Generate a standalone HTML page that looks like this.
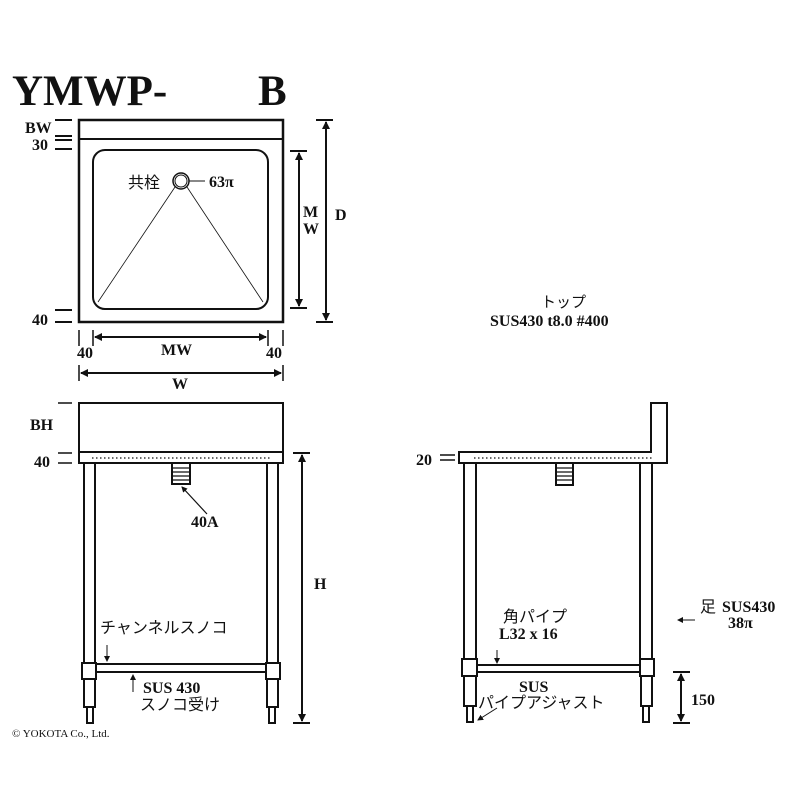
<!DOCTYPE html>
<html><head><meta charset="utf-8"><style>
html,body{margin:0;padding:0;background:#fff}
svg text{font-family:"Liberation Serif","Noto Serif CJK SC",serif;font-weight:bold;fill:#111}
.j{font-family:"Liberation Sans","Noto Sans CJK JP",sans-serif;font-weight:normal}
</style></head><body>
<svg width="800" height="800" viewBox="0 0 800 800" xmlns="http://www.w3.org/2000/svg">
<defs>
<marker id="a" markerWidth="8" markerHeight="8" refX="7" refY="4" orient="auto-start-reverse" markerUnits="userSpaceOnUse"><path d="M0,0 L8,4 L0,8 Z" fill="#111"/></marker>
<marker id="s" markerWidth="6" markerHeight="6" refX="5" refY="3" orient="auto" markerUnits="userSpaceOnUse"><path d="M0,0 L6,3 L0,6 Z" fill="#111"/></marker>
</defs>
<g stroke="#111" fill="none">
<text x="12" y="105" font-size="43" stroke="none">YMWP-</text>
<text x="258" y="105" font-size="43" stroke="none">B</text>
<!-- top view -->
<rect x="79" y="120" width="204" height="202" stroke-width="2.5"/>
<line x1="79" y1="139" x2="283" y2="139" stroke-width="2"/>
<rect x="93" y="150" width="175" height="159" rx="12" stroke-width="2"/>
<circle cx="181" cy="181" r="8" stroke-width="1.5"/><circle cx="181" cy="181" r="6" stroke-width="1"/>
<line x1="175" y1="187" x2="98" y2="302" stroke-width="0.8"/>
<line x1="187" y1="187" x2="263" y2="302" stroke-width="0.8"/>
<line x1="189" y1="181" x2="205" y2="181" stroke-width="1"/>
<g stroke-width="2">
<line x1="55" y1="120" x2="72" y2="120"/><line x1="55" y1="136" x2="72" y2="136"/>
<line x1="55" y1="140" x2="72" y2="140"/><line x1="55" y1="149" x2="72" y2="149"/>
<line x1="55" y1="310" x2="72" y2="310"/><line x1="55" y1="322" x2="72" y2="322"/>
<line x1="290" y1="151" x2="307" y2="151"/><line x1="290" y1="308" x2="307" y2="308"/>
<line x1="316" y1="120" x2="333" y2="120"/><line x1="316" y1="322" x2="333" y2="322"/>
</g>
<line x1="299" y1="153" x2="299" y2="306" stroke-width="2" marker-start="url(#a)" marker-end="url(#a)"/>
<line x1="326" y1="122" x2="326" y2="320" stroke-width="2" marker-start="url(#a)" marker-end="url(#a)"/>
<g stroke-width="1.5"><line x1="79" y1="330" x2="79" y2="346"/><line x1="93" y1="330" x2="93" y2="346"/><line x1="268" y1="330" x2="268" y2="346"/><line x1="283" y1="330" x2="283" y2="346"/>
<line x1="79" y1="365" x2="79" y2="381"/><line x1="283" y1="365" x2="283" y2="381"/></g>
<line x1="95" y1="337" x2="266" y2="337" stroke-width="2" marker-start="url(#a)" marker-end="url(#a)"/>
<line x1="81" y1="373" x2="281" y2="373" stroke-width="2" marker-start="url(#a)" marker-end="url(#a)"/>
<g stroke="none" font-size="16">
<text x="25" y="133">BW</text><text x="32" y="150">30</text><text x="32" y="325">40</text>
<text x="303" y="217">M</text><text x="303" y="234">W</text><text x="335" y="220">D</text>
<text x="77" y="358">40</text><text x="266" y="358">40</text>
<text x="161" y="355">MW</text><text x="172" y="389">W</text>
<text x="209" y="187">63π</text>
<text x="128" y="188" class="j" font-size="16">共栓</text>
</g>
<!-- front view -->
<rect x="79" y="403" width="204" height="49" stroke-width="2"/>
<rect x="79" y="452" width="204" height="11" stroke-width="2"/>
<line x1="92" y1="458" x2="272" y2="458" stroke-width="1.2" stroke-dasharray="1.5,2.5"/>
<line x1="58" y1="403" x2="72" y2="403" stroke-width="1.5"/>
<line x1="58" y1="453" x2="72" y2="453" stroke-width="1.5"/><line x1="58" y1="463" x2="72" y2="463" stroke-width="1.5"/>
<rect x="84" y="463" width="11" height="200" stroke-width="2"/>
<rect x="267" y="463" width="11" height="200" stroke-width="2"/>
<rect x="82" y="663" width="14" height="16" stroke-width="2"/>
<rect x="266" y="663" width="14" height="16" stroke-width="2"/>
<rect x="96" y="664" width="170" height="8" stroke-width="2"/>
<rect x="84" y="679" width="11" height="28" stroke-width="2"/>
<rect x="267" y="679" width="11" height="28" stroke-width="2"/>
<rect x="87" y="707" width="6" height="16" stroke-width="2"/>
<rect x="269" y="707" width="6" height="16" stroke-width="2"/>
<rect x="172" y="463" width="18" height="21" stroke-width="2"/>
<g stroke-width="1.2"><line x1="172" y1="468" x2="190" y2="468"/><line x1="172" y1="472" x2="190" y2="472"/><line x1="172" y1="476" x2="190" y2="476"/><line x1="172" y1="480" x2="190" y2="480"/></g>
<line x1="207" y1="514" x2="182" y2="487" stroke-width="1.2" marker-end="url(#s)"/>
<line x1="293" y1="453" x2="310" y2="453" stroke-width="2"/><line x1="293" y1="723" x2="310" y2="723" stroke-width="2"/>
<line x1="302" y1="455" x2="302" y2="721" stroke-width="2" marker-start="url(#a)" marker-end="url(#a)"/>
<line x1="107" y1="645" x2="107" y2="661" stroke-width="1" marker-end="url(#s)"/>
<line x1="133" y1="692" x2="133" y2="675" stroke-width="1" marker-end="url(#s)"/>
<g stroke="none" font-size="16">
<text x="30" y="430">BH</text><text x="34" y="467">40</text>
<text x="191" y="527">40A</text><text x="314" y="589">H</text>
<text x="143" y="693">SUS 430</text>
<text x="100" y="633" class="j" font-size="16">チャンネルスノコ</text>
<text x="140" y="710" class="j" font-size="16">スノコ受け</text>
<text x="12" y="737" font-size="11" style="font-weight:normal">© YOKOTA Co., Ltd.</text>
</g>
<!-- side view -->
<path d="M651,452 L651,403 L667,403 L667,463 L459,463 L459,452 Z" stroke-width="2"/>
<line x1="474" y1="458" x2="654" y2="458" stroke-width="1.2" stroke-dasharray="1.5,2.5"/>
<line x1="440" y1="455" x2="455" y2="455" stroke-width="1.5"/><line x1="440" y1="460" x2="455" y2="460" stroke-width="1.5"/>
<rect x="464" y="463" width="12" height="196" stroke-width="2"/>
<rect x="640" y="463" width="12" height="196" stroke-width="2"/>
<rect x="462" y="659" width="15" height="17" stroke-width="2"/>
<rect x="640" y="659" width="14" height="17" stroke-width="2"/>
<rect x="477" y="665" width="163" height="7" stroke-width="2"/>
<rect x="464" y="676" width="12" height="30" stroke-width="2"/>
<rect x="641" y="676" width="11" height="30" stroke-width="2"/>
<rect x="467" y="706" width="6" height="16" stroke-width="2"/>
<rect x="643" y="706" width="6" height="16" stroke-width="2"/>
<rect x="556" y="463" width="17" height="22" stroke-width="2"/>
<g stroke-width="1.2"><line x1="556" y1="468" x2="573" y2="468"/><line x1="556" y1="472" x2="573" y2="472"/><line x1="556" y1="476" x2="573" y2="476"/><line x1="556" y1="480" x2="573" y2="480"/></g>
<line x1="497" y1="650" x2="497" y2="663" stroke-width="1" marker-end="url(#s)"/>
<line x1="695" y1="620" x2="678" y2="620" stroke-width="1" marker-end="url(#s)"/>
<line x1="497" y1="708" x2="478" y2="720" stroke-width="1" marker-end="url(#s)"/>
<line x1="673" y1="672" x2="690" y2="672" stroke-width="2"/><line x1="673" y1="723" x2="690" y2="723" stroke-width="2"/>
<line x1="681" y1="674" x2="681" y2="721" stroke-width="2" marker-start="url(#a)" marker-end="url(#a)"/>
<g stroke="none" font-size="16">
<text x="416" y="465">20</text>
<text x="490" y="326">SUS430 t8.0 #400</text>
<text x="541" y="307" class="j" font-size="15">トップ</text>
<text x="499" y="639">L32 x 16</text>
<text x="503" y="622" class="j" font-size="16">角パイプ</text>
<text x="722" y="612">SUS430</text>
<text x="700" y="612" class="j" font-size="16">足</text>
<text x="728" y="628">38π</text>
<text x="519" y="692">SUS</text>
<text x="478" y="708" class="j" font-size="16">パイプアジャスト</text>
<text x="691" y="705">150</text>
</g>
</g>
</svg>
</body></html>
